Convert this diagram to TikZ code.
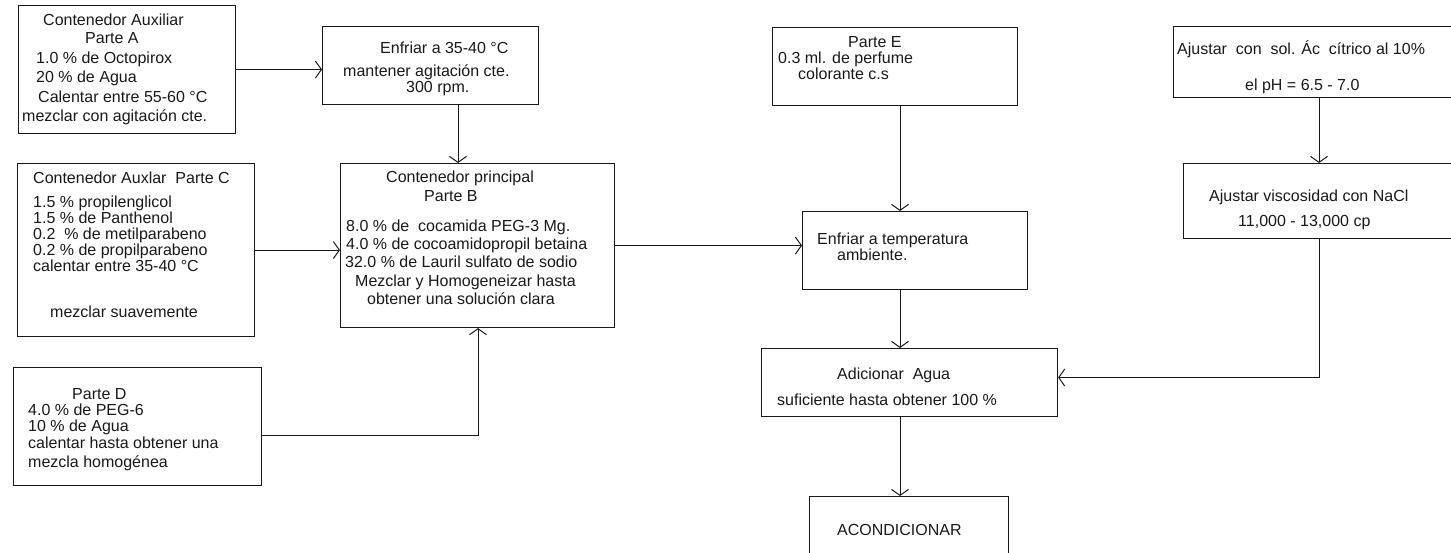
\documentclass[tikz,border=0pt]{standalone}
\usepackage{fontspec}
\setmainfont{Liberation Sans}
\usetikzlibrary{arrows.meta}
\newcounter{tl}
\newcommand{\putline}[3]{\stepcounter{tl}\node[txt] (t\arabic{tl}) at (#1,#2+5) {#3};}
\tikzset{
  box/.style={draw=black!90, line width=1.1pt, anchor=north west, inner sep=0pt},
  txt/.style={anchor=base west, inner sep=0pt, font=\fontsize{16}{18}\selectfont, text=black!90},
  bigtxt/.style={txt, font=\fontsize{17}{19}\selectfont},
  conn/.style={draw=black!90, line width=1pt},
  arr/.style={conn, -{Straight Barb[length=6pt,width=17pt,line width=1pt]}}
}
\begin{document}
\begin{tikzpicture}[x=1pt,y=-1pt]
\useasboundingbox (0,0) rectangle (1451,553);
% boxes
\node[box, minimum width=217, minimum height=128] (A) at (18,5) {};
\node[box, minimum width=216, minimum height=78] (E1) at (322,26) {};
\node[box, minimum width=237, minimum height=173] (C) at (17,163) {};
\node[box, minimum width=274, minimum height=164] (P) at (340,163) {};
\node[box, minimum width=248, minimum height=118] (D) at (13,367) {};
\node[box, minimum width=245, minimum height=78] (PE) at (772,27) {};
\node[box, minimum width=225, minimum height=78] (T) at (802,211) {};
\node[box, minimum width=296, minimum height=68] (AD) at (761,348) {};
\node[box, minimum width=199, minimum height=70] (AC) at (809,496) {};
\node[box, minimum width=290, minimum height=71] (PH) at (1173,26) {};
\node[box, minimum width=280, minimum height=75] (VI) at (1183,163) {};
% texts
\tikzset{txt/.append style={}}
\begin{scope}[every node/.append style={font=\fontsize{17}{19}\selectfont}]
\putline{43}{21}{Contenedor Auxiliar}
\putline{85}{39}{Parte A}
\putline{36}{59}{1.0 \% de Octopirox}
\putline{36}{78}{20 \% de Agua}
\putline{38}{98}{Calentar entre 55-60 °C}
\putline{22}{117}{mezclar con agitación cte.}
\end{scope}
\putline{380}{49}{Enfriar a 35-40 °C}
\putline{343}{72}{mantener agitación cte.}
\putline{406}{88}{300 rpm.}
\putline{33}{179}{Contenedor Auxlar\ \ Parte C}
\putline{33}{203}{1.5 \% propilenglicol}
\putline{33}{219}{1.5 \% de Panthenol}
\putline{33}{235}{0.2\ \ \% de metilparabeno}
\putline{33}{251}{0.2 \% de propilparabeno}
\putline{33}{267}{calentar entre 35-40 °C}
\putline{50}{313}{mezclar suavemente}
\putline{386}{178}{Contenedor principal}
\putline{424}{197}{Parte B}
\putline{346}{227}{8.0 \% de\ \ cocamida PEG-3 Mg.}
\putline{346}{245}{4.0 \% de cocoamidopropil betaina}
\putline{345}{263}{32.0 \% de Lauril sulfato de sodio}
\putline{355}{282}{Mezclar y Homogeneizar hasta}
\putline{367}{300}{obtener una solución clara}
\putline{72}{394}{Parte D}
\putline{28}{410}{4.0 \% de PEG-6}
\putline{28}{426}{10 \% de Agua}
\putline{28}{443}{calentar hasta obtener una}
\putline{28}{462}{mezcla homogénea}
\putline{848}{43}{Parte E}
\putline{778}{59}{0.3 ml. de perfume}
\putline{798}{75}{colorante c.s}
\putline{817}{240}{Enfriar a temperatura}
\putline{837}{256}{ambiente.}
\putline{837}{374}{Adicionar\ \ Agua}
\putline{777}{400}{suficiente hasta obtener 100 \%}
\putline{837}{530}{ACONDICIONAR}
\putline{1177}{50}{Ajustar\ \ con\ \ sol. Ác\ \ cítrico al 10\%}
\putline{1245}{86}{el pH = 6.5 - 7.0}
\putline{1209}{197}{Ajustar viscosidad con NaCl}
\putline{1238}{222}{11,000 - 13,000 cp}
% connector helpers
\coordinate (mx) at (900,0);
\coordinate (rx) at (1319,0);
\coordinate (px) at (458,0);
\coordinate (dx) at (478,0);
% connectors
\draw[arr] (A.east) -- (A.east -| E1.west);
\draw[arr] (E1.south -| px) -- (P.north -| px);
\draw[arr] (C.east) -- (C.east -| P.west);
\draw[arr] ([yshift=-9pt]D.east) -- ([yshift=-9pt]D.east -| dx) -- (P.south -| dx);
\draw[arr] (P.east) -- (P.east -| T.west);
\draw[arr] (PE.south -| mx) -- (T.north -| mx);
\draw[arr] (T.south -| mx) -- (AD.north -| mx);
\draw[arr] (AD.south -| mx) -- (AC.north -| mx);
\draw[arr] (PH.south -| rx) -- (VI.north -| rx);
\draw[arr] (VI.south -| rx) -- ([yshift=5pt]AD.east -| rx) -- ([yshift=5pt]AD.east);
\end{tikzpicture}
\end{document}
